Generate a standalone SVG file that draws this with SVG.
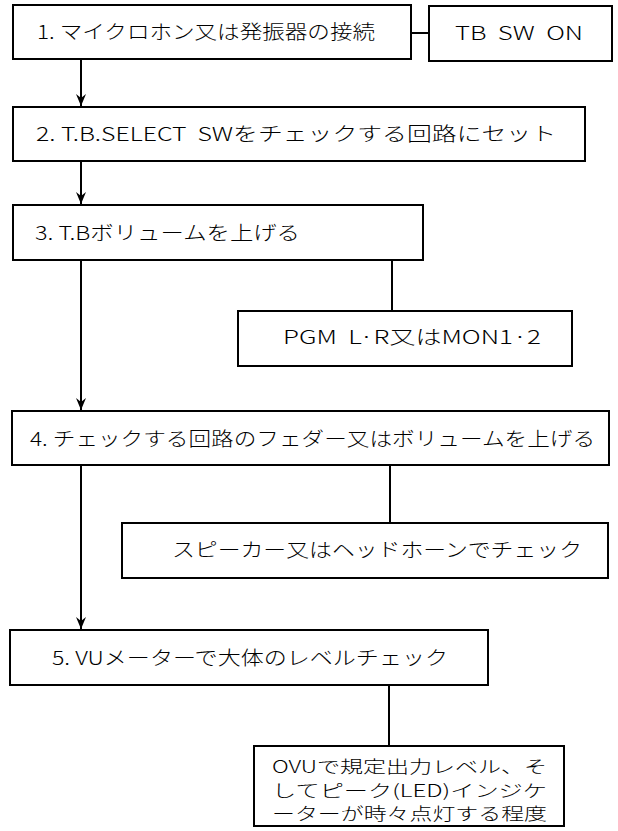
<svg xmlns="http://www.w3.org/2000/svg" width="618" height="831" viewBox="0 0 618 831">
<style>
.box{fill:#fff;stroke:#000;stroke-width:2}
.t{font-family:"Noto Sans CJK JP","Noto Sans",sans-serif;font-size:19px;font-weight:300;fill:#000;white-space:pre}
.s{font-size:17px}
.c{stroke:#000;stroke-width:2;fill:none}
</style>
<defs>
<marker id="ah" viewBox="0 0 12 10" refX="12" refY="5" markerWidth="12" markerHeight="10" markerUnits="userSpaceOnUse" orient="auto">
<path d="M0,0 L12,5 L0,10 L4,5 Z" fill="#000"/>
</marker>
</defs>
<rect width="618" height="831" fill="#fff"/>
<g id="connectors">
<line class="c" x1="411" y1="33" x2="429" y2="33"/>
<line class="c" x1="81" y1="59" x2="81" y2="106" marker-end="url(#ah)"/>
<line class="c" x1="81" y1="161" x2="81" y2="204" marker-end="url(#ah)"/>
<line class="c" x1="81" y1="260" x2="81" y2="410" marker-end="url(#ah)"/>
<line class="c" x1="81" y1="465" x2="81" y2="629" marker-end="url(#ah)"/>
<line class="c" x1="392" y1="260" x2="392" y2="311"/>
<line class="c" x1="390" y1="465" x2="390" y2="523"/>
<line class="c" x1="389" y1="685" x2="389" y2="746"/>
</g>
<g id="n1">
<rect class="box" x="13" y="5" width="398" height="54"/>
<text class="t" x="37" y="39" textLength="338" lengthAdjust="spacingAndGlyphs">1. マイクロホン又は発振器の接続</text>
</g>
<g id="n1b">
<rect class="box" x="429" y="6" width="183" height="55"/>
<text class="t" x="455" y="40" textLength="128" lengthAdjust="spacingAndGlyphs">TB  SW  ON</text>
</g>
<g id="n2">
<rect class="box" x="13" y="107" width="572" height="54"/>
<text class="t" x="36" y="141" textLength="520" lengthAdjust="spacingAndGlyphs">2. T.B.SELECT  SWをチェックする回路にセット</text>
</g>
<g id="n3">
<rect class="box" x="13" y="205" width="410" height="55"/>
<text class="t" x="35" y="240" textLength="265" lengthAdjust="spacingAndGlyphs">3. T.Bボリュームを上げる</text>
</g>
<g id="n3b">
<rect class="box" x="238" y="311" width="334" height="55"/>
<text class="t" x="283" y="344" textLength="258" lengthAdjust="spacingAndGlyphs">PGM  L·R又はMON1·2</text>
</g>
<g id="n4">
<rect class="box" x="12" y="411" width="597" height="54"/>
<text class="t" x="30" y="446" textLength="565" lengthAdjust="spacingAndGlyphs">4. チェックする回路のフェダー又はボリュームを上げる</text>
</g>
<g id="n4b">
<rect class="box" x="122" y="523" width="486" height="55"/>
<text class="t" x="172" y="557" textLength="410" lengthAdjust="spacingAndGlyphs">スピーカー又はヘッドホーンでチェック</text>
</g>
<g id="n5">
<rect class="box" x="10" y="630" width="478" height="55"/>
<text class="t" x="52" y="665" textLength="396" lengthAdjust="spacingAndGlyphs">5. VUメーターで大体のレベルチェック</text>
</g>
<g id="n5b">
<rect class="box" x="254" y="746" width="310" height="80"/>
<text class="t s" x="272" y="773" textLength="275" lengthAdjust="spacingAndGlyphs">OVUで規定出力レベル、そ</text>
<text class="t s" x="272" y="797" textLength="275" lengthAdjust="spacingAndGlyphs">してピーク(LED)インジケ</text>
<text class="t s" x="272" y="820" textLength="275" lengthAdjust="spacingAndGlyphs">ーターが時々点灯する程度</text>
</g>
</svg>
